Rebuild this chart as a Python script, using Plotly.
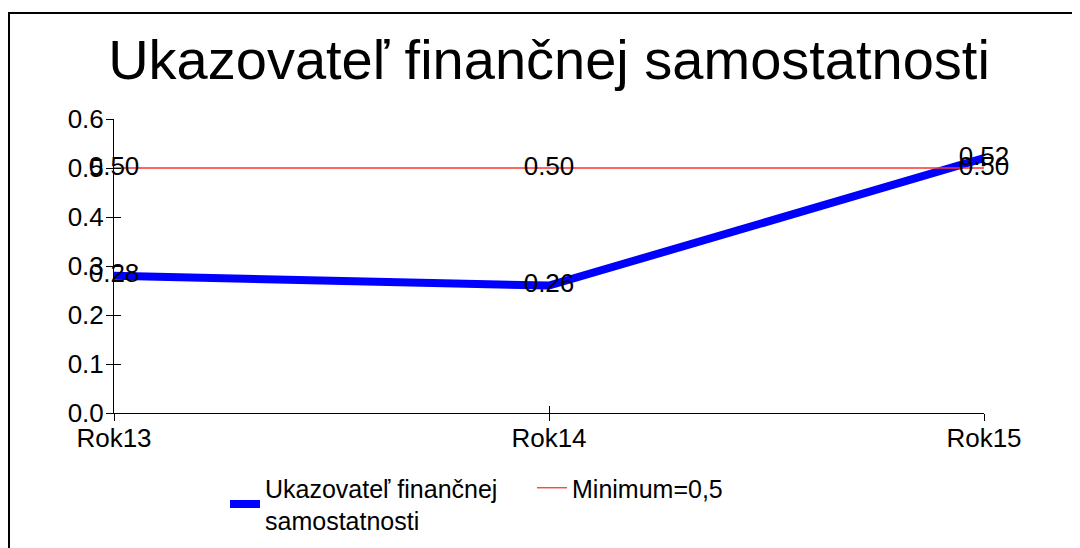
import plotly.graph_objects as go

categories = ["Rok13", "Rok14", "Rok15"]
ukazovatel = [0.28, 0.26, 0.52]
minimum = [0.50, 0.50, 0.50]
y_ticks = [0.0, 0.1, 0.2, 0.3, 0.4, 0.5, 0.6]

FONT = "Liberation Sans, Arial, sans-serif"
# page is rendered with 8px body margin; figure coordinates below are figure-local
W, H = 1072, 540
L, R, T, B = 106, 96, 111, 135
pw, ph = W - L - R, H - T - B
plot_bottom = H - B

fig = go.Figure()
fig.add_trace(go.Scatter(
    x=categories, y=ukazovatel, mode="lines+text",
    name="Ukazovateľ finančnej<br>samostatnosti",
    line=dict(color="#0000ff", width=8),
    text=[f"{v:.2f}" for v in ukazovatel], textposition="middle center",
    textfont=dict(family=FONT, size=26, color="black"),
    cliponaxis=False,
))
fig.add_trace(go.Scatter(
    x=categories, y=minimum, mode="lines+text",
    name="Minimum=0,5",
    line=dict(color="#ff3030", width=1.3),
    text=[f"{v:.2f}" for v in minimum], textposition="middle center",
    textfont=dict(family=FONT, size=26, color="black"),
    cliponaxis=False,
))
# invisible trace to hold inside ticks on overlay axes
fig.add_trace(go.Scatter(x=categories, y=minimum, xaxis="x2", yaxis="y2",
                         mode="markers", marker=dict(opacity=0),
                         showlegend=False, hoverinfo="skip"))

axis_common = dict(showgrid=False, zeroline=False, linecolor="black",
                   linewidth=1, tickcolor="black", ticklen=7, tickwidth=1,
                   tickfont=dict(family=FONT, size=26, color="black"))

fig.update_layout(
    width=W, height=H,
    margin=dict(l=L, r=R, t=T, b=B, autoexpand=False),
    paper_bgcolor="white", plot_bgcolor="white",
    font=dict(family=FONT, color="black"),
    title=dict(text="Ukazovateľ finančnej samostatnosti",
               font=dict(family=FONT, size=56, color="black"),
               x=0.5, xref="paper", xanchor="center",
               y=1 - 51 / H, yref="container", yanchor="middle"),
    xaxis=dict(type="category", range=[0, 2], showline=True, ticks="outside",
               ticklabelstandoff=-5, **axis_common),
    yaxis=dict(range=[0, 0.6], tickvals=y_ticks, tickformat=".1f",
               showline=True, ticks="outside", ticklabelstandoff=-3,
               **axis_common),
    xaxis2=dict(type="category", range=[0, 2], overlaying="x", showline=False,
                ticks="inside", showticklabels=False, showgrid=False,
                zeroline=False, tickcolor="black", ticklen=7, tickwidth=1,
                side="bottom", matches="x"),
    yaxis2=dict(range=[0, 0.6], tickvals=y_ticks, overlaying="y", side="left",
                showline=False, ticks="inside", showticklabels=False,
                showgrid=False, zeroline=False, tickcolor="black", ticklen=7,
                tickwidth=1),
    legend=dict(orientation="h", x=(217 - L) / pw, y=(plot_bottom - 457) / ph,
                xanchor="left", yanchor="top",
                font=dict(family=FONT, size=25, color="black"),
                bgcolor="rgba(0,0,0,0)", entrywidth=262, entrywidthmode="pixels",
                traceorder="normal"),
    showlegend=True,
    shapes=[dict(type="rect", xref="paper", yref="paper",
                 x0=(1 - L) / pw, x1=(1100 - L) / pw,
                 y0=(plot_bottom - 560) / ph, y1=(plot_bottom - 5) / ph,
                 line=dict(color="black", width=2), fillcolor="rgba(0,0,0,0)",
                 layer="below")],
)

fig.write_html("out.html")
